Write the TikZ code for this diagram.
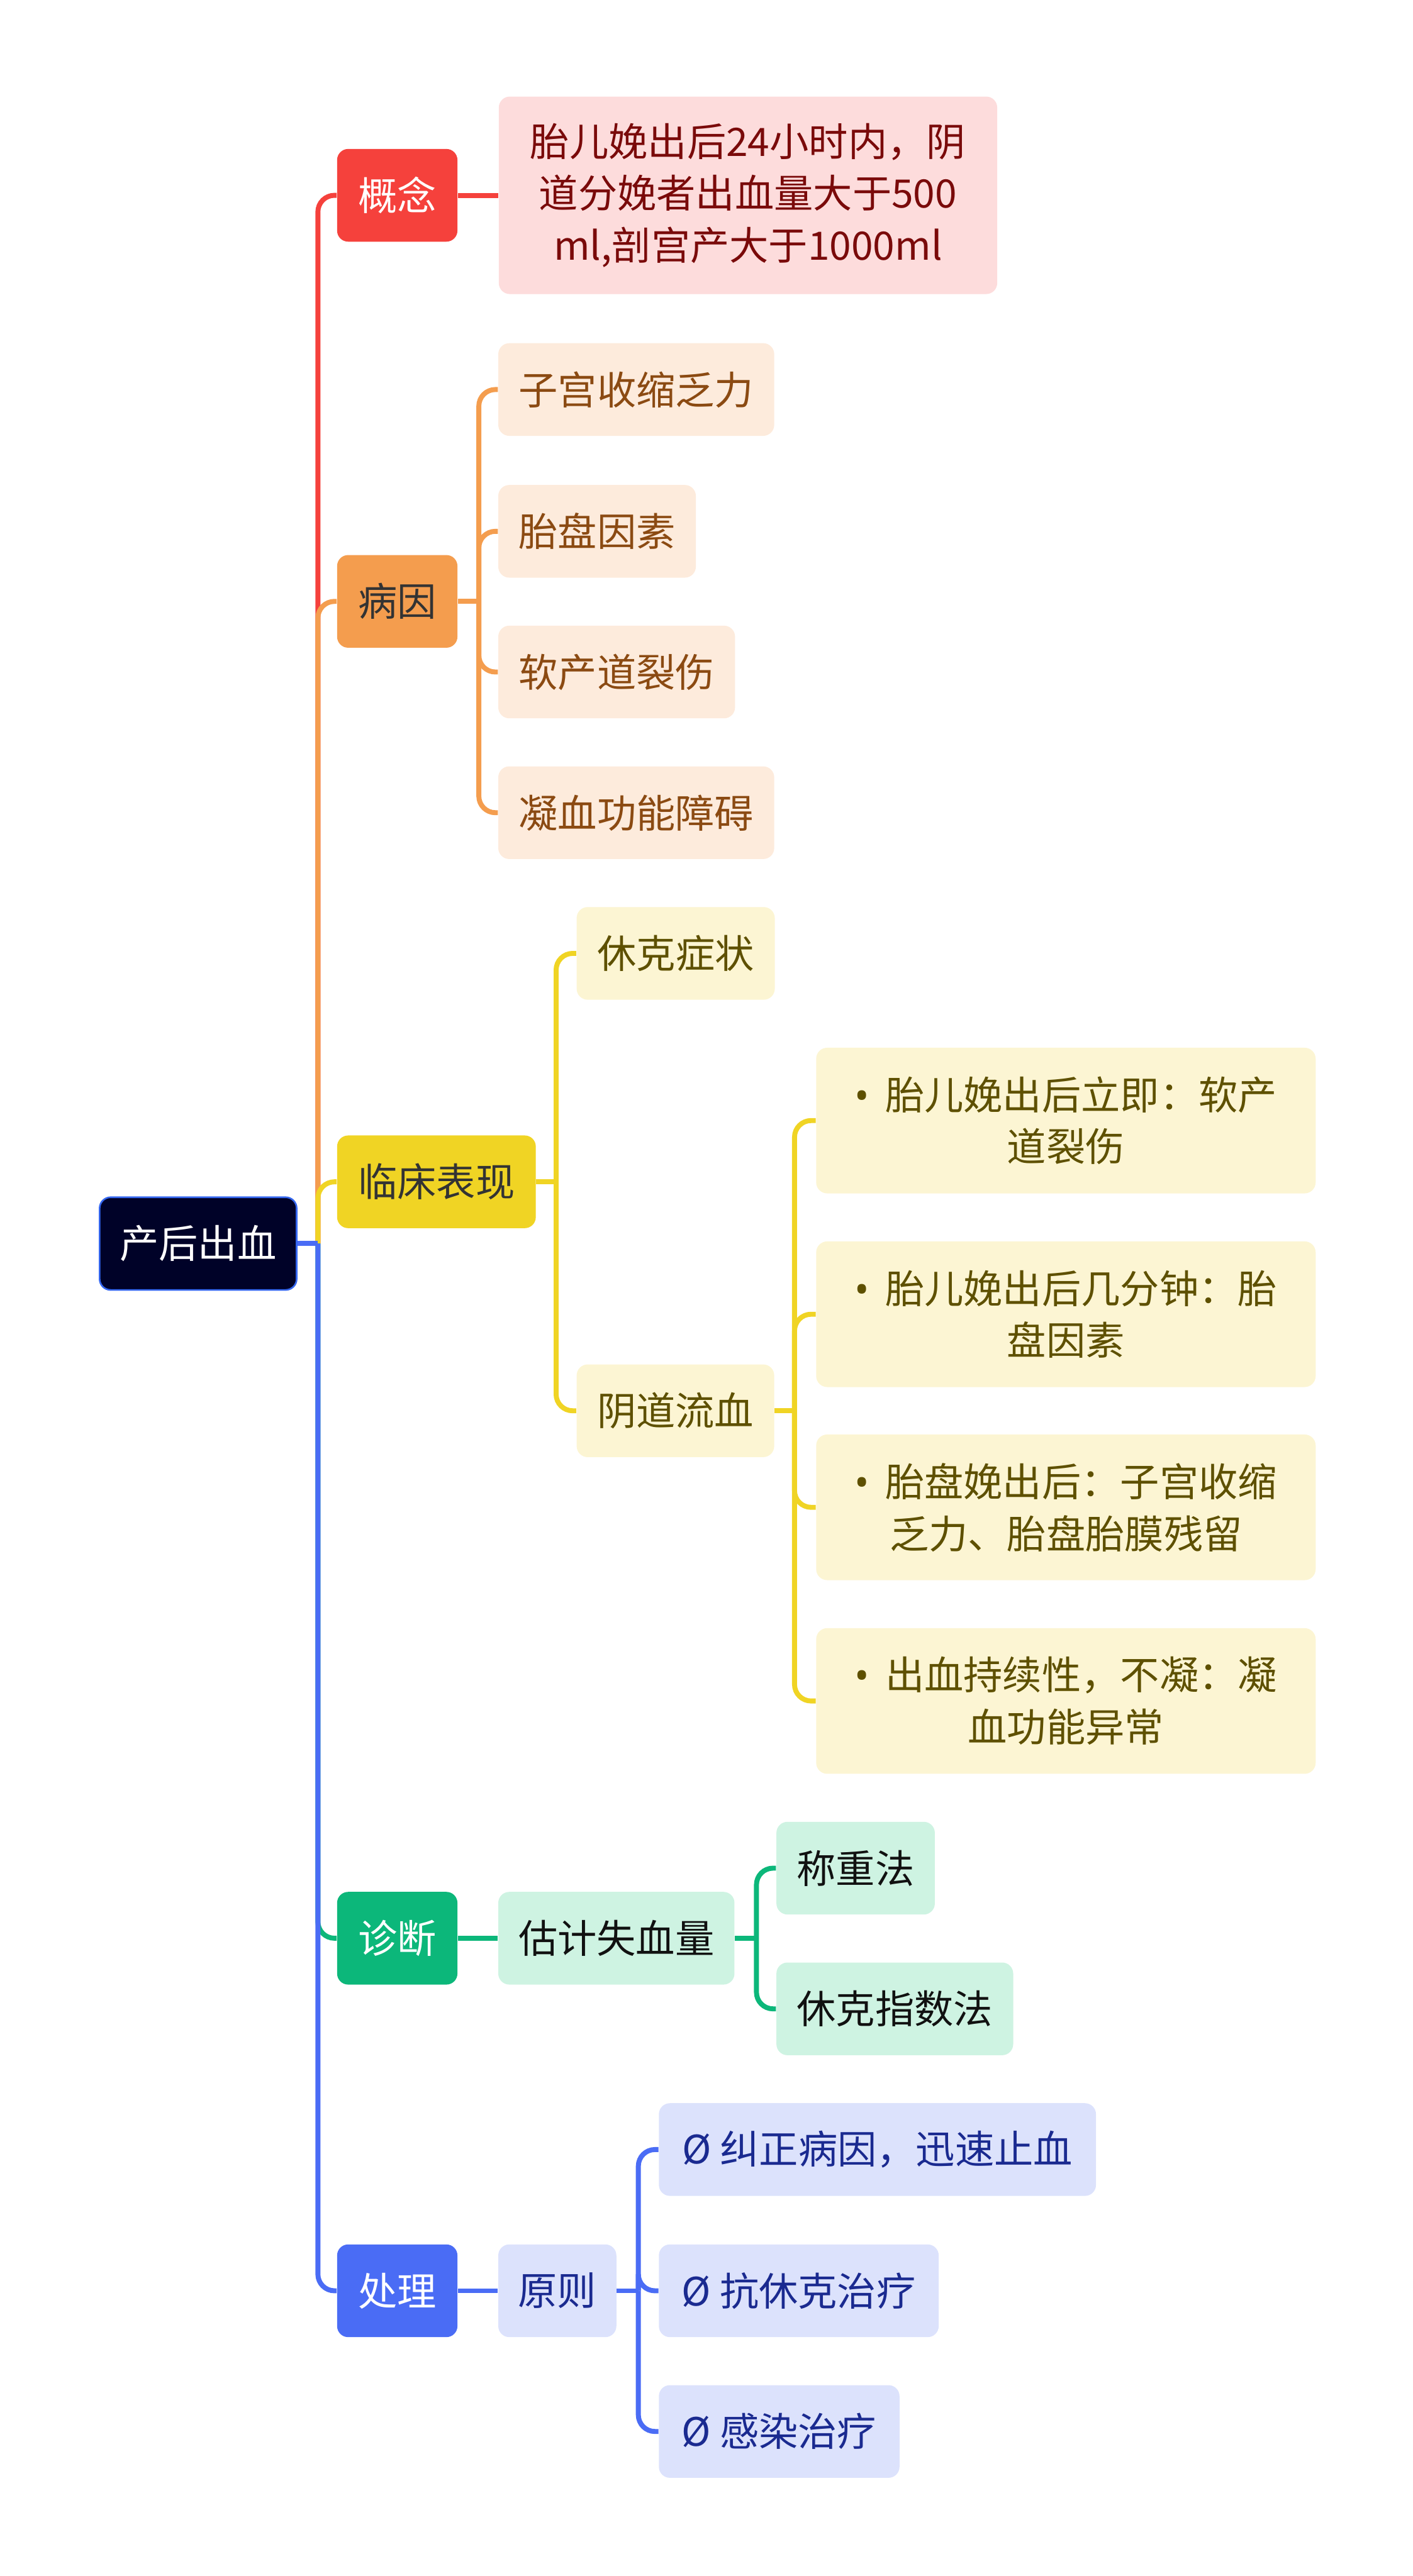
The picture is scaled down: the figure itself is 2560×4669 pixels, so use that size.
\documentclass[tikz,border=0pt]{standalone}
\usepackage{fontspec}
\setmainfont{Noto Sans CJK SC}
\newfontfamily\bulletfont{Noto Sans}
\newcommand{\bul}{{\bulletfont •}\hspace{0.4em}}
\definecolor{cred}{HTML}{F5413C}
\definecolor{corange}{HTML}{F49D4E}
\definecolor{cyellow}{HTML}{F0D424}
\definecolor{cgreen}{HTML}{0CB77A}
\definecolor{cblue}{HTML}{4A6CF5}
\definecolor{croot}{HTML}{000228}
\definecolor{crootb}{HTML}{3466EE}
\definecolor{lred}{HTML}{FDDCDC}
\definecolor{lorange}{HTML}{FDEBDC}
\definecolor{lyellow}{HTML}{FCF5D3}
\definecolor{lgreen}{HTML}{CEF3E2}
\definecolor{lblue}{HTML}{DCE2FC}
\definecolor{tred}{HTML}{7A0A0A}
\definecolor{torange}{HTML}{8B4A12}
\definecolor{tyellow}{HTML}{5E5000}
\definecolor{tgreen}{HTML}{111111}
\definecolor{tblue}{HTML}{1A2A90}
\definecolor{tdark}{HTML}{333333}
\begin{document}
\begin{tikzpicture}[x=0.25pt,y=-0.25pt,
  base/.style={rectangle,rounded corners=5pt,inner sep=0pt,anchor=west,align=center,
    font=\fontsize{17.75pt}{23.6pt}\selectfont,minimum height=42pt},
  bw/.style={minimum width=#1*0.25pt},
  bh/.style={minimum height=#1*0.25pt},
  conn/.style={line width=2.25pt},
  elbow/.style={conn,rounded corners=7.5pt},
  redbox/.style={base,fill=lred,text=tred},
  orabox/.style={base,fill=lorange,text=torange},
  yelbox/.style={base,fill=lyellow,text=tyellow},
  grnbox/.style={base,fill=lgreen,text=tgreen},
  blubox/.style={base,fill=lblue,text=tblue}
]
\useasboundingbox (0,0) rectangle (2560,4669);

% root
\node[base,bw=357,fill=croot,draw=crootb,line width=0.75pt,text=white] (root) at (179,2254) {产后出血};

% level 1
\node[base,bw=218,fill=cred,text=white] (n1) at (610,354) {概念};
\node[base,bw=218,fill=corange,text=tdark] (n2) at (610,1090) {病因};
\node[base,bw=360,fill=cyellow,text=tdark] (n3) at (610,2142) {临床表现};
\node[base,bw=218,fill=cgreen,text=white] (n4) at (610,3513) {诊断};
\node[base,bw=218,fill=cblue,text=white] (n5) at (610,4152) {处理};

% 概念
\node[redbox,bw=903,bh=358] (a1) at (903,354) {胎儿娩出后24小时内，阴\\道分娩者出血量大于500\\ml,剖宫产大于1000ml};

% 病因
\node[orabox,bw=500] (b1) at (902,706) {子宫收缩乏力};
\node[orabox,bw=358] (b2) at (902,963) {胎盘因素};
\node[orabox,bw=429] (b3) at (902,1218) {软产道裂伤};
\node[orabox,bw=500] (b4) at (902,1473) {凝血功能障碍};

% 临床表现
\node[yelbox,bw=359] (c1) at (1044,1728) {休克症状};
\node[yelbox,bw=358] (c2) at (1044,2557) {阴道流血};
\node[yelbox,bw=905,bh=264] (c3) at (1478,2031) {\bul 胎儿娩出后立即：软产\\道裂伤};
\node[yelbox,bw=905,bh=264] (c4) at (1478,2382) {\bul 胎儿娩出后几分钟：胎\\盘因素};
\node[yelbox,bw=905,bh=264] (c5) at (1478,2732) {\bul 胎盘娩出后：子宫收缩\\乏力、胎盘胎膜残留};
\node[yelbox,bw=905,bh=264] (c6) at (1478,3083) {\bul 出血持续性，不凝：凝\\血功能异常};

% 诊断
\node[grnbox,bw=428] (d1) at (902,3513) {估计失血量};
\node[grnbox,bw=287] (d2) at (1406,3386) {称重法};
\node[grnbox,bw=429] (d3) at (1406,3641) {休克指数法};

% 处理
\node[blubox,bw=214] (e1) at (902,4152) {原则};
\node[blubox,bw=792] (e2) at (1193,3896) {Ø 纠正病因，迅速止血};
\node[blubox,bw=507] (e3) at (1193,4152) {Ø 抗休克治疗};
\node[blubox,bw=436] (e4) at (1193,4407) {Ø 感染治疗};

% trunk
\path (root.east) ++(37,0) coordinate (T);
\draw[elbow,cred] (T) |- (n1.west);
\draw[elbow,corange] (T) |- (n2.west);
\draw[elbow,cyellow] (T) |- (n3.west);
\draw[elbow,cgreen] (T) |- (n4.west);
\draw[elbow,cblue] (T) |- (n5.west);
\draw[conn,cblue] (root.east) -- (T);

% 概念
\draw[conn,cred] (n1.east) -- (a1.west);

% 病因
\path (n2.east) ++(38,0) coordinate (B2);
\draw[conn,corange] (n2.east) -- (B2);
\foreach \c in {b1,b2,b3,b4} \draw[elbow,corange] (B2) |- (\c.west);

% 临床表现
\path (n3.east) ++(36,0) coordinate (B3);
\draw[conn,cyellow] (n3.east) -- (B3);
\foreach \c in {c1,c2} \draw[elbow,cyellow] (B3) |- (\c.west);
\path (c2.east) ++(36,0) coordinate (B3b);
\draw[conn,cyellow] (c2.east) -- (B3b);
\foreach \c in {c3,c4,c5,c6} \draw[elbow,cyellow] (B3b) |- (\c.west);

% 诊断
\draw[conn,cgreen] (n4.east) -- (d1.west);
\path (d1.east) ++(39,0) coordinate (B4);
\draw[conn,cgreen] (d1.east) -- (B4);
\foreach \c in {d2,d3} \draw[elbow,cgreen] (B4) |- (\c.west);

% 处理
\draw[conn,cblue] (n5.east) -- (e1.west);
\path (e1.east) ++(39,0) coordinate (B5);
\draw[conn,cblue] (e1.east) -- (B5);
\foreach \c in {e2,e3,e4} \draw[elbow,cblue] (B5) |- (\c.west);
\end{tikzpicture}
\end{document}
